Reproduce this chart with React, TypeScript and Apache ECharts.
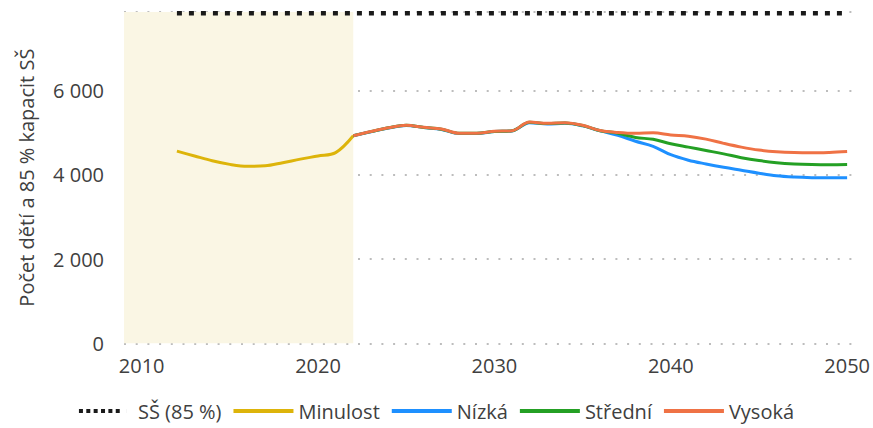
import React, { useEffect, useRef } from "react";
import * as echarts from "echarts";

const years = [2012, 2013, 2014, 2015, 2016, 2017, 2018, 2019, 2020, 2021, 2022, 2023, 2024, 2025, 2026, 2027, 2028, 2029, 2030, 2031, 2032, 2033, 2034, 2035, 2036, 2037, 2038, 2039, 2040, 2041, 2042, 2043, 2044, 2045, 2046, 2047, 2048, 2049, 2050];

const capacity = 7840;

const pastYears = [2012, 2013, 2014, 2015, 2016, 2017, 2018, 2019, 2020, 2021, 2022];
const pastValues = [4565, 4450, 4335, 4250, 4205, 4215, 4290, 4375, 4450, 4530, 4930];

const projYears = [2022, 2023, 2024, 2025, 2026, 2027, 2028, 2029, 2030, 2031, 2032, 2033, 2034, 2035, 2036, 2037, 2038, 2039, 2040, 2041, 2042, 2043, 2044, 2045, 2046, 2047, 2048, 2049, 2050];
const lowValues = [4930, 5025, 5115, 5175, 5125, 5080, 4985, 4985, 5030, 5045, 5240, 5210, 5225, 5165, 5045, 4940, 4800, 4680, 4480, 4350, 4260, 4180, 4110, 4040, 3980, 3950, 3935, 3930, 3935];
const midValues = [4930, 5028, 5118, 5178, 5128, 5085, 4988, 4988, 5033, 5048, 5250, 5220, 5235, 5175, 5050, 4990, 4890, 4845, 4740, 4660, 4580, 4500, 4410, 4340, 4290, 4260, 4245, 4240, 4245];
const highValues = [4930, 5030, 5120, 5180, 5130, 5090, 4990, 4990, 5035, 5050, 5255, 5225, 5240, 5180, 5055, 5010, 4990, 5000, 4950, 4920, 4850, 4750, 4660, 4590, 4550, 4530, 4525, 4535, 4555];

const xLabels = [2010, 2020, 2030, 2040, 2050];
const shadeRange = [2009, 2022];

const names = ["SŠ (85 %)", "Minulost", "Nízká", "Střední", "Vysoká"];
const colors = ["#1a1a1a", "#DDB40A", "#1E90FF", "#24A024", "#EF7245"];

const FONT = "Open Sans";
const TXT = "#404040";

function pairs(xs: number[], ys: number[]) {
  return xs.map((x, i) => [x, ys[i]]);
}

export default function App() {
  const ref = useRef<HTMLDivElement>(null);
  useEffect(() => {
    if (!ref.current) return;
    const chart = echarts.init(ref.current, undefined, { renderer: "svg" });
    const dotIcon =
      "path://M0,0h5v5h-5z M9.2,0h5v5h-5z M18.4,0h5v5h-5z M27.6,0h5v5h-5z M36.8,0h5v5h-5z M46,0h5v5h-5z M59.95,0h0.05v5h-0.05z";
    chart.setOption({
      animation: false,
      textStyle: { fontFamily: FONT },
      grid: { left: 124, right: 13, top: 12, bottom: 84.7 },
      legend: {
        bottom: 2,
        left: "center",
        itemWidth: 60,
        itemHeight: 4,
        itemGap: 12,
        textStyle: { fontFamily: FONT, fontSize: 20, color: TXT },
        data: [
          { name: names[0], icon: dotIcon },
          { name: names[1], icon: "rect" },
          { name: names[2], icon: "rect" },
          { name: names[3], icon: "rect" },
          { name: names[4], icon: "rect" },
        ],
      },
      xAxis: {
        type: "value",
        min: 2009,
        max: 2050.7,
        axisLine: { show: false },
        axisTick: { show: false },
        splitLine: { show: false },
        axisLabel: {
          customValues: xLabels,
          fontFamily: FONT,
          fontSize: 20,
          color: TXT,
          margin: 12,
          formatter: (v: number) => String(v),
        },
      },
      yAxis: {
        type: "value",
        min: 0,
        max: 7870,
        interval: 2000,
        name: "Počet dětí a 85 % kapacit SŠ",
        nameLocation: "middle",
        nameGap: 88,
        nameTextStyle: { fontFamily: FONT, fontSize: 20, color: TXT },
        axisLine: { show: false },
        axisTick: { show: false },
        axisLabel: {
          fontFamily: FONT,
          fontSize: 20,
          color: TXT,
          margin: 20,
          formatter: (v: number) =>
            v % 2000 === 0 ? String(v).replace(/\B(?=(\d{3})+(?!\d))/g, " ") : "",
        },
        splitLine: {
          show: true,
          lineStyle: { color: "#bdbdbd", width: 2, type: [2, 9.7] },
        },
      },
      series: [
        {
          name: names[0],
          type: "line",
          symbol: "none",
          data: years.map((y) => [y, capacity]),
          lineStyle: { color: colors[0], width: 4.5, type: [5, 7] },
          itemStyle: { color: colors[0] },
          z: 3,
        },
        {
          name: names[1],
          type: "line",
          symbol: "none",
          smooth: 0.35,
          data: pairs(pastYears, pastValues),
          lineStyle: { color: colors[1], width: 3 },
          itemStyle: { color: colors[1] },
          markArea: {
            silent: true,
            itemStyle: { color: "#FAF6E4" },
            data: [[{ xAxis: shadeRange[0] }, { xAxis: shadeRange[1] }]],
          },
          z: 2,
        },
        {
          name: names[2],
          type: "line",
          symbol: "none",
          smooth: 0.35,
          data: pairs(projYears, lowValues),
          lineStyle: { color: colors[2], width: 3 },
          itemStyle: { color: colors[2] },
          z: 2,
        },
        {
          name: names[3],
          type: "line",
          symbol: "none",
          smooth: 0.35,
          data: pairs(projYears, midValues),
          lineStyle: { color: colors[3], width: 3 },
          itemStyle: { color: colors[3] },
          z: 2,
        },
        {
          name: names[4],
          type: "line",
          symbol: "none",
          smooth: 0.35,
          data: pairs(projYears, highValues),
          lineStyle: { color: colors[4], width: 3 },
          itemStyle: { color: colors[4] },
          z: 2,
        },
      ],
    });
    return () => chart.dispose();
  }, []);
  return (
    <div
      ref={ref}
      style={{ position: "absolute", left: 0, top: 0, width: 873, height: 428 }}
    />
  );
}
